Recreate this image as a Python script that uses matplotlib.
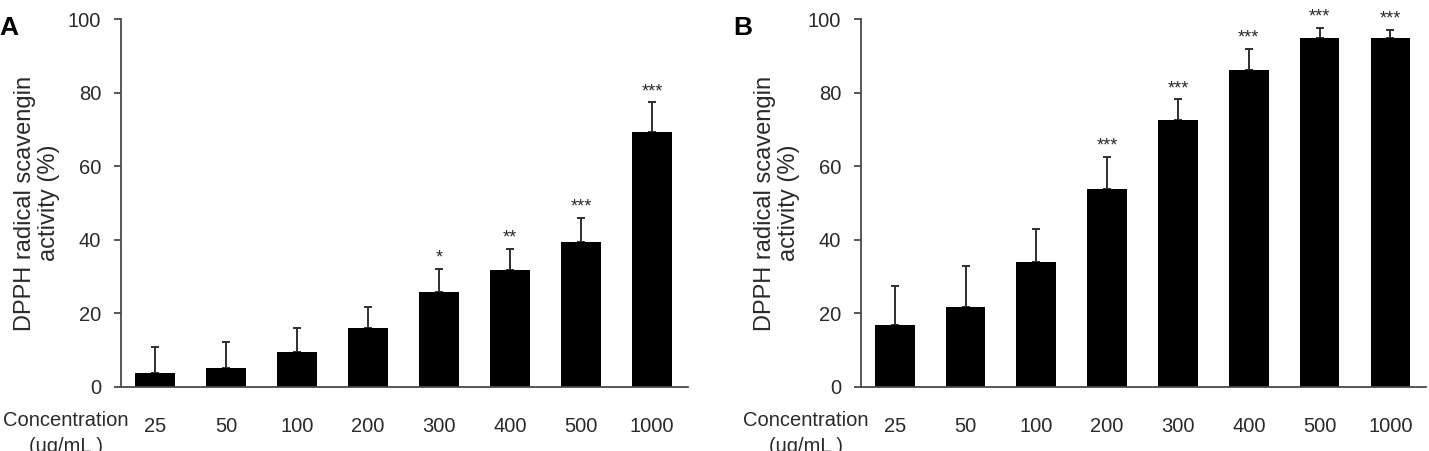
import matplotlib
matplotlib.use("Agg")
from matplotlib import pyplot as plt
import matplotlib.transforms as mtransforms
import numpy as np

plt.rcParams['font.family'] = ['Liberation Sans', 'DejaVu Sans']

# data
concentrations = ["25", "50", "100", "200", "300", "400", "500", "1000"]

a_values = [3.6, 5.2, 9.4, 16.0, 25.8, 31.7, 39.5, 69.3]
a_errors = [7.1, 7.0, 6.5, 5.6, 6.2, 5.8, 6.5, 8.1]
a_stars = ["", "", "", "", "*", "**", "***", "***"]

b_values = [16.9, 21.7, 33.9, 53.8, 72.6, 86.3, 95.0, 95.0]
b_errors = [10.4, 11.2, 9.0, 8.7, 5.6, 5.6, 2.7, 2.2]
b_stars = ["", "", "", "***", "***", "***", "***", "***"]

TXT = '#2a2a2a'
AX = '#4a4a4a'

fig = plt.figure(figsize=(14.29, 4.51), dpi=100)
ax_a = fig.add_axes([0.0845, 0.1426, 0.3968, 0.8146])
ax_b = fig.add_axes([0.6023, 0.1426, 0.3955, 0.8146])


def draw_panel(ax, values, errors, stars, letter, letter_x):
    x = np.arange(len(values))
    ax.bar(x, values, width=0.56, color='black', zorder=2)
    ax.errorbar(x, values, yerr=[np.zeros(len(errors)), errors], fmt='none',
                ecolor='#2e2e2e', elinewidth=1.4, capsize=3, capthick=1.4, zorder=1)
    for xi, v, e, s in zip(x, values, errors, stars):
        if s:
            ax.text(xi, v + e + 0.6, s, ha='center', va='bottom', fontsize=13,
                    color=TXT, clip_on=False)

    ax.set_xlim(-0.48, 7.5)
    ax.set_ylim(0, 100)
    ax.set_yticks([0, 20, 40, 60, 80, 100])
    ax.set_xticks(x)
    ax.set_xticklabels(concentrations)
    for side in ['top', 'right']:
        ax.spines[side].set_visible(False)
    for side in ['left', 'bottom']:
        ax.spines[side].set_color(AX)
        ax.spines[side].set_linewidth(1.3)
    ax.tick_params(axis='y', direction='out', length=5, width=1.3, color=AX,
                   labelsize=14.5, labelcolor=TXT, pad=9)
    ax.tick_params(axis='x', length=0, labelsize=14.5, labelcolor=TXT, pad=22)

    ax.set_ylabel("DPPH radical scavengin\nactivity (%)", fontsize=17, color=TXT,
                  linespacing=1.1)
    ax.yaxis.set_label_coords(-0.108, 0.5)

    trans = mtransforms.blended_transform_factory(ax.transData, ax.transAxes)
    ax.text(-0.37, -0.066, "Concentration\n(ug/mL )", transform=trans, ha='right',
            va='top', multialignment='center', fontsize=14.5, color=TXT,
            linespacing=1.45, clip_on=False)

    ax.text(letter_x, 0.975, letter, transform=ax.transAxes, fontsize=19,
            fontweight='bold', ha='left', va='center', color='black')


draw_panel(ax_a, a_values, a_errors, a_stars, "A", -0.214)
draw_panel(ax_b, b_values, b_errors, b_stars, "B", -0.226)

fig.savefig("out.png", dpi=100)
